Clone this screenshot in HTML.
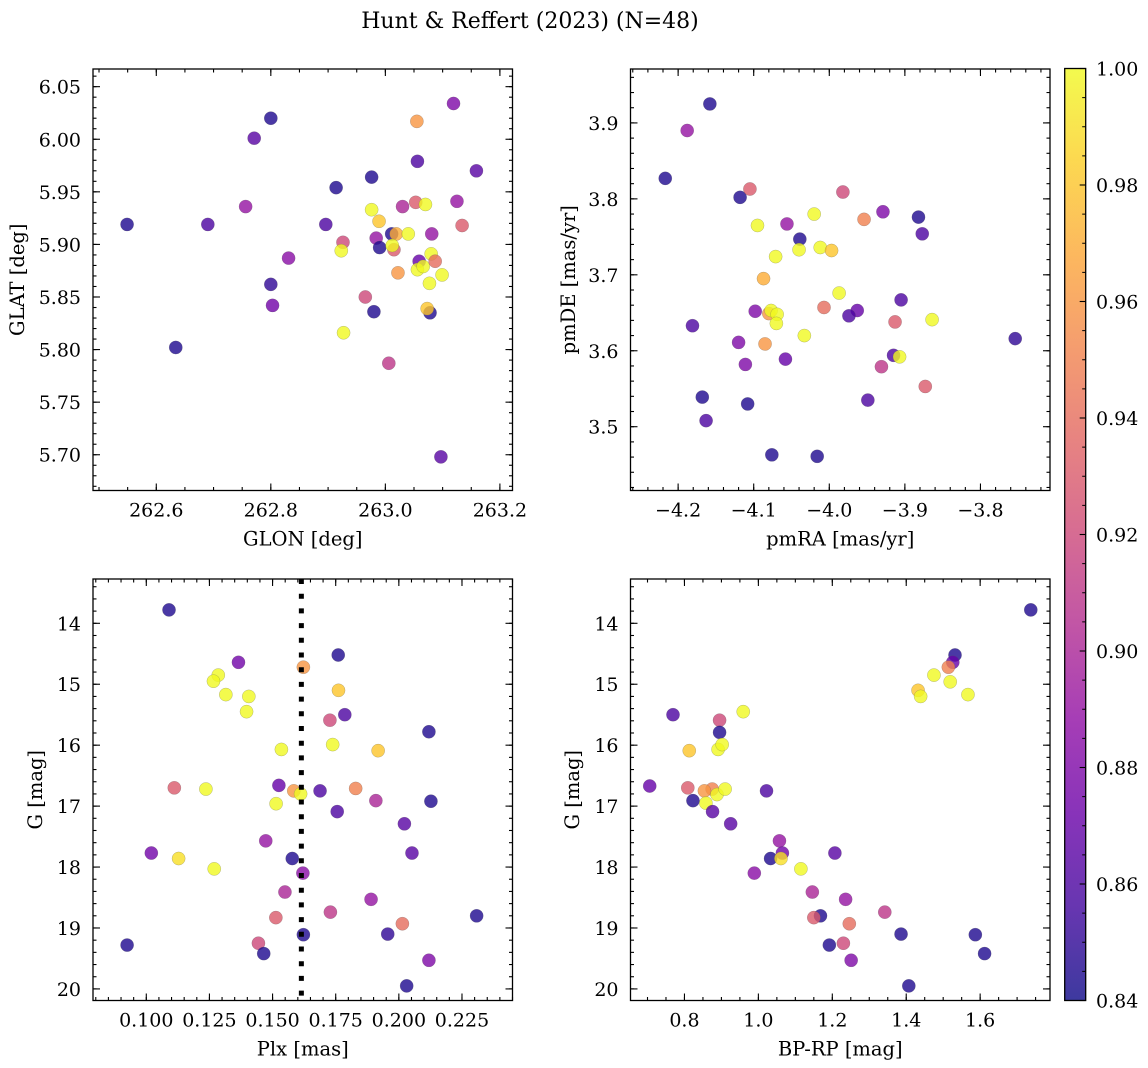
<!DOCTYPE html>
<html><head><meta charset="utf-8">
<style>
html,body{margin:0;padding:0;background:#fff;}
svg{display:block;font-family:"DejaVu Serif","Liberation Serif",serif;}
</style></head>
<body>
<svg id="fig" width="1148" height="1068" viewBox="0 0 1148 1068" xmlns="http://www.w3.org/2000/svg">
<defs>
<linearGradient id="plasma" x1="0" y1="1" x2="0" y2="0">
<stop offset="0" stop-color="#0d0887"/><stop offset="0.1" stop-color="#41049d"/><stop offset="0.2" stop-color="#6a00a8"/><stop offset="0.3" stop-color="#8f0da4"/><stop offset="0.4" stop-color="#b12a90"/><stop offset="0.5" stop-color="#cc4778"/><stop offset="0.6" stop-color="#e16462"/><stop offset="0.7" stop-color="#f2844b"/><stop offset="0.8" stop-color="#fca636"/><stop offset="0.9" stop-color="#fcce25"/><stop offset="1" stop-color="#f0f921"/>
</linearGradient>
</defs>
<text x="530" y="28" font-size="22" text-anchor="middle">Hunt &amp; Reffert (2023) (N=48)</text>
</svg>
<script>
// ---- Panel 1: GLON vs GLAT ----
const p1Glon=[262.549,262.634,262.690,262.771,262.800,262.756,262.831,262.800,262.803,262.914,262.896,262.926,262.923,262.927,262.976,262.976,262.989,262.984,262.990,262.980,262.965,263.006,263.030,263.011,263.019,263.040,263.015,263.012,263.022,263.055,263.056,263.053,263.070,263.059,263.056,263.066,263.081,263.080,263.087,263.077,263.099,263.078,263.073,263.119,263.125,263.134,263.159,263.097];
const p1Glat=[5.919,5.802,5.919,6.001,6.020,5.936,5.887,5.862,5.842,5.954,5.919,5.902,5.894,5.816,5.964,5.933,5.922,5.906,5.897,5.836,5.850,5.787,5.936,5.910,5.910,5.910,5.895,5.899,5.873,6.017,5.979,5.940,5.938,5.884,5.876,5.879,5.910,5.891,5.884,5.863,5.871,5.835,5.839,6.034,5.941,5.918,5.970,5.698];
const p1Prob=[0.845,0.845,0.86,0.865,0.845,0.89,0.885,0.85,0.875,0.845,0.86,0.92,1.0,1.0,0.845,1.0,0.98,0.89,0.845,0.845,0.92,0.91,0.90,0.845,0.97,1.0,0.93,1.0,0.96,0.96,0.86,0.93,1.0,0.87,1.0,1.0,0.89,1.0,0.94,1.0,1.0,0.845,0.98,0.88,0.89,0.93,0.865,0.865];
// ---- Panel 2: pmRA vs pmDE ----
const p2Pmra=[-4.158,-4.188,-4.217,-4.118,-4.105,-3.982,-4.095,-4.056,-4.020,-4.039,-4.040,-4.012,-3.997,-3.954,-3.929,-3.882,-3.877,-4.071,-4.087,-3.987,-4.098,-4.080,-4.077,-4.069,-4.070,-4.007,-3.963,-3.974,-3.905,-3.913,-3.864,-4.181,-4.120,-4.085,-4.033,-4.111,-4.058,-3.915,-3.907,-3.931,-3.873,-3.754,-4.168,-4.108,-3.949,-4.163,-4.076,-4.016];
const p2Pmde=[3.925,3.890,3.827,3.802,3.813,3.809,3.765,3.767,3.780,3.747,3.733,3.736,3.732,3.773,3.783,3.776,3.754,3.724,3.695,3.676,3.652,3.649,3.653,3.648,3.636,3.657,3.653,3.646,3.667,3.638,3.641,3.633,3.611,3.609,3.620,3.582,3.589,3.594,3.592,3.579,3.553,3.616,3.539,3.530,3.535,3.508,3.463,3.461];
const p2Prob=[0.845,0.89,0.845,0.845,0.93,0.92,1.0,0.89,1.0,0.845,1.0,1.0,0.98,0.95,0.88,0.845,0.86,1.0,0.97,1.0,0.88,0.96,1.0,1.0,1.0,0.94,0.87,0.86,0.86,0.93,1.0,0.86,0.88,0.96,1.0,0.88,0.87,0.86,1.0,0.91,0.93,0.85,0.845,0.845,0.86,0.86,0.845,0.845];
// ---- Panel 3: Plx vs G ----
const p3Plx=[0.1090,0.1365,0.1622,0.1760,0.1285,0.1266,0.1315,0.1406,0.1397,0.1761,0.1786,0.1727,0.2119,0.1535,0.1738,0.1918,0.1111,0.1236,0.1525,0.1584,0.1611,0.1688,0.1829,0.1909,0.2127,0.1514,0.1756,0.2022,0.1473,0.1020,0.1128,0.1578,0.2052,0.1269,0.1620,0.1549,0.1890,0.1729,0.1513,0.2014,0.2308,0.1622,0.1956,0.0924,0.1444,0.1465,0.2119,0.2031];
const p3G=[13.78,14.64,14.72,14.52,14.85,14.95,15.17,15.20,15.45,15.10,15.50,15.59,15.78,16.07,15.99,16.09,16.70,16.72,16.66,16.75,16.80,16.75,16.71,16.91,16.92,16.96,17.09,17.29,17.57,17.77,17.86,17.86,17.77,18.03,18.10,18.41,18.53,18.74,18.83,18.93,18.80,19.11,19.10,19.28,19.25,19.42,19.53,19.95];
const p3Prob=[0.845,0.875,0.96,0.845,1.0,1.0,1.0,1.0,1.0,0.98,0.86,0.92,0.845,1.0,1.0,0.98,0.93,1.0,0.87,0.96,1.0,0.86,0.95,0.90,0.845,1.0,0.86,0.865,0.89,0.875,0.99,0.845,0.865,1.0,0.885,0.90,0.89,0.91,0.93,0.94,0.845,0.845,0.85,0.845,0.92,0.845,0.88,0.845];
const p3MeanPlx=0.1614;
// ---- Panel 4: BP-RP vs G ----
const p4Bprp=[1.737,1.532,1.526,1.514,1.475,1.519,1.567,1.432,1.439,0.769,0.959,0.895,0.895,0.813,0.891,0.902,0.706,0.809,0.875,0.854,0.888,0.910,0.823,0.858,1.022,0.876,0.925,1.057,1.065,1.033,1.061,1.207,1.115,0.989,1.146,1.236,1.342,1.168,1.150,1.246,1.386,1.587,1.192,1.230,1.612,1.251,1.407];
const p4G=[13.78,14.52,14.64,14.72,14.85,14.96,15.17,15.10,15.20,15.50,15.45,15.59,15.79,16.09,16.07,15.99,16.67,16.70,16.72,16.75,16.81,16.72,16.91,16.95,16.75,17.09,17.29,17.57,17.77,17.86,17.86,17.77,18.03,18.10,18.41,18.53,18.74,18.80,18.83,18.93,19.10,19.11,19.28,19.25,19.42,19.53,19.95];
const p4Prob=[0.845,0.845,0.87,0.95,1.0,1.0,1.0,0.98,1.0,0.86,1.0,0.92,0.845,0.98,1.0,1.0,0.87,0.93,0.95,0.96,1.0,1.0,0.845,1.0,0.86,0.865,0.865,0.89,0.875,0.845,0.99,0.865,1.0,0.885,0.90,0.89,0.91,0.845,0.93,0.94,0.845,0.845,0.845,0.92,0.845,0.88,0.845];
// ---- Colorbar ----
const cbTicks=[0.84,0.86,0.88,0.90,0.92,0.94,0.96,0.98,1.00];
const cbMin=0.84, cbMax=1.00;

const NS="http://www.w3.org/2000/svg";
const svg=document.getElementById('fig');
function mk(tag,attrs,parent){const e=document.createElementNS(NS,tag);for(const k in attrs)e.setAttribute(k,attrs[k]);(parent||svg).appendChild(e);return e;}
const stops=[[13,8,135],[65,4,157],[106,0,168],[143,13,164],[177,42,144],[204,71,120],[225,100,98],[242,132,75],[252,166,54],[252,206,37],[240,249,33]];
function plasma(v){let t=(v-cbMin)/(cbMax-cbMin);t=Math.max(0,Math.min(1,t))*10;const i=Math.min(9,Math.floor(t)),f=t-i;const a=stops[i],b=stops[i+1];return 'rgb('+a.map((c,k)=>Math.round(c+(b[k]-c)*f)).join(',')+')';}
function lin(d0,d1,r0,r1){return v=>r0+(v-d0)/(d1-d0)*(r1-r0);}
function fmt(v,dec){let s=v.toFixed(dec);if(v<0)s='\u2212'+s.slice(1);return s;}
const TICKFS=19, LABFS=19.5;

function panel(cfg){
  const g=mk('g',{});
  
  
  const {x0,y0,x1,y1}=cfg;
  const sx=lin(cfg.xlim[0],cfg.xlim[1],x0,x1);
  const sy=cfg.yinv?lin(cfg.ylim[0],cfg.ylim[1],y0,y1):lin(cfg.ylim[0],cfg.ylim[1],y1,y0);
  const clipId=cfg.name+'-clip';
  const cp=mk('clipPath',{id:clipId},g);mk('rect',{x:x0,y:y0,width:x1-x0,height:y1-y0},cp);
  const pts=mk('g',{'clip-path':'url(#'+clipId+')'},g);
  for(let i=0;i<cfg.xs.length;i++){
    const c=mk('circle',{cx:sx(cfg.xs[i]),cy:sy(cfg.ys[i]),r:6.6,fill:plasma(cfg.cs[i]),'fill-opacity':0.8,stroke:'#555','stroke-opacity':0.5,'stroke-width':0.4},pts);
    
    
  }
  if(cfg.vline!==undefined){
    const l=mk('line',{x1:sx(cfg.vline),x2:sx(cfg.vline),y1:y0,y2:y1,stroke:'#000','stroke-width':5,'stroke-dasharray':'5,9.7'},pts);
    
    
  }
  mk('rect',{x:x0,y:y0,width:x1-x0,height:y1-y0,fill:'none',stroke:'#000','stroke-width':1.3},g);
  const tg=mk('g',{stroke:'#000','stroke-width':1.1},g);
  const eps=1e-9;
  function ticksX(step,len){const s=Math.ceil((cfg.xlim[0])/step-eps);for(let k=s;k*step<=cfg.xlim[1]+eps;k++){const X=sx(k*step);mk('line',{x1:X,x2:X,y1:y1,y2:y1-len},tg);mk('line',{x1:X,x2:X,y1:y0,y2:y0+len},tg);}}
  function ticksY(step,len){const lo=Math.min(...cfg.ylim),hi=Math.max(...cfg.ylim);const s=Math.ceil(lo/step-eps);for(let k=s;k*step<=hi+eps;k++){const Y=sy(k*step);mk('line',{x1:x0,x2:x0+len,y1:Y,y2:Y},tg);mk('line',{x1:x1,x2:x1-len,y1:Y,y2:Y},tg);}}
  ticksX(cfg.xminor,3.5);ticksX(cfg.xmajor,7);ticksY(cfg.yminor,3.5);ticksY(cfg.ymajor,7);
  cfg.xticks.forEach(v=>{const t=mk('text',{x:sx(v),y:y1+26,'font-size':TICKFS,'text-anchor':'middle'},g);t.textContent=fmt(v,cfg.xdec);
    
    });
  cfg.yticks.forEach(v=>{const t=mk('text',{x:x0-12,y:sy(v)+7,'font-size':TICKFS,'text-anchor':'end'},g);t.textContent=fmt(v,cfg.ydec);
    
    });
  const xl=mk('text',{x:(x0+x1)/2,y:y1+55,'font-size':LABFS,'text-anchor':'middle'},g);xl.textContent=cfg.xlabel;
  
  
  const yl=mk('text',{x:cfg.ylx,y:(y0+y1)/2,'font-size':LABFS,'text-anchor':'middle',transform:'rotate(-90 '+cfg.ylx+' '+(y0+y1)/2+')'},g);yl.textContent=cfg.ylabel;
  
  
}

panel({name:'glon-glat-panel',x0:93,y0:69,x1:512.5,y1:490.5,xlim:[262.4895,263.222],ylim:[5.666,6.0668],xs:p1Glon,ys:p1Glat,cs:p1Prob,
  xmajor:0.2,xminor:0.05,ymajor:0.05,yminor:0.01,xticks:[262.6,262.8,263.0,263.2],xdec:1,yticks:[5.70,5.75,5.80,5.85,5.90,5.95,6.00,6.05],ydec:2,xlabel:'GLON [deg]',ylabel:'GLAT [deg]',ylx:24});
panel({name:'pm-panel',x0:630.5,y0:69,x1:1050,y1:490.5,xlim:[-4.263,-3.708],ylim:[3.416,3.971],xs:p2Pmra,ys:p2Pmde,cs:p2Prob,
  xmajor:0.1,xminor:0.02,ymajor:0.1,yminor:0.02,xticks:[-4.2,-4.1,-4.0,-3.9,-3.8],xdec:1,yticks:[3.5,3.6,3.7,3.8,3.9],ydec:1,xlabel:'pmRA [mas/yr]',ylabel:'pmDE [mas/yr]',ylx:575});
panel({name:'plx-g-panel',x0:93,y0:579,x1:512.5,y1:1000.5,xlim:[0.0789,0.2450],ylim:[13.273,20.19],yinv:true,xs:p3Plx,ys:p3G,cs:p3Prob,vline:p3MeanPlx,
  xmajor:0.025,xminor:0.005,ymajor:1,yminor:0.2,xticks:[0.100,0.125,0.150,0.175,0.200,0.225],xdec:3,yticks:[14,15,16,17,18,19,20],ydec:0,xlabel:'Plx [mas]',ylabel:'G [mag]',ylx:42});
panel({name:'cmd-panel',x0:630.5,y0:579,x1:1050,y1:1000.5,xlim:[0.654,1.789],ylim:[13.273,20.19],yinv:true,xs:p4Bprp,ys:p4G,cs:p4Prob,
  xmajor:0.2,xminor:0.05,ymajor:1,yminor:0.2,xticks:[0.8,1.0,1.2,1.4,1.6],xdec:1,yticks:[14,15,16,17,18,19,20],ydec:0,xlabel:'BP-RP [mag]',ylabel:'G [mag]',ylx:579});

const cb=mk('g',{});


const cbx0=1064.7,cbx1=1085.7,cby0=68.5,cby1=1000.5;
const cy=lin(cbMin,cbMax,cby1,cby0);
mk('rect',{x:cbx0,y:cby0,width:cbx1-cbx0,height:cby1-cby0,fill:'url(#plasma)','fill-opacity':0.8},cb);
mk('rect',{x:cbx0,y:cby0,width:cbx1-cbx0,height:cby1-cby0,fill:'none',stroke:'#000','stroke-width':1.3},cb);
for(let k=0;k<=32;k++){const v=cbMin+k*0.005;const Y=cy(v);mk('line',{x1:cbx1,x2:cbx1-3.5,y1:Y,y2:Y,stroke:'#000','stroke-width':1},cb);}
cbTicks.forEach(v=>{const Y=cy(v);mk('line',{x1:cbx1,x2:cbx1-6,y1:Y,y2:Y,stroke:'#000','stroke-width':1.1},cb);
  const t=mk('text',{x:1096,y:Y+7,'font-size':TICKFS},cb);t.textContent=v.toFixed(2);
  
  });
</script>
</body></html>
